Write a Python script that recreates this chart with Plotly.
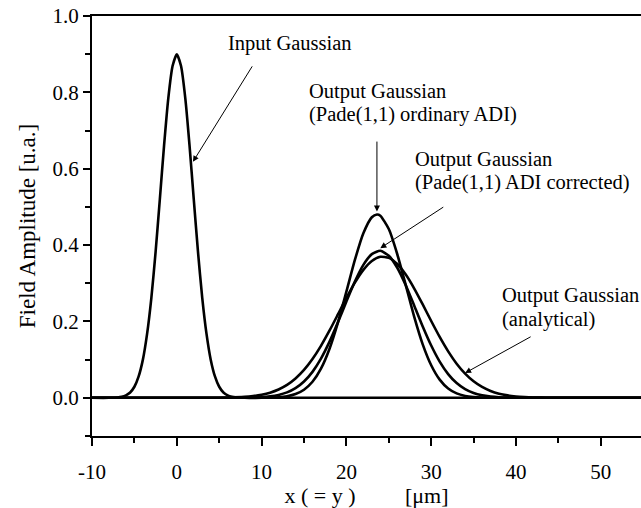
import plotly.graph_objects as go

# ---- data ----
x_input = [-10, -8, -7, -6.5, -6, -5.5, -5, -4.5, -4, -3.5, -3, -2.5, -2, -1.5, -1, -0.5, 0,
           0.5, 1, 1.5, 2, 2.5, 3, 3.5, 4, 4.5, 5, 5.5, 6, 6.5, 7, 8, 10, 55]
y_input = [0, 0, 0.001, 0.0027, 0.0065, 0.014, 0.029, 0.056, 0.100, 0.168, 0.262, 0.382, 0.520,
           0.661, 0.785, 0.869, 0.900, 0.869, 0.785, 0.661, 0.520, 0.382, 0.262, 0.168, 0.100,
           0.056, 0.029, 0.014, 0.0065, 0.0027, 0.001, 0, 0, 0]

x_ordinary = [-10, 8, 10, 11, 12, 13, 14, 15, 16, 17, 18, 19, 20, 21, 22, 23, 23.6, 24, 25, 26,
              27, 28, 29, 30, 31, 32, 33, 34, 35, 36, 37, 38, 40, 55]
y_ordinary = [0, 0, 0.0002, 0.0006, 0.0016, 0.0042, 0.0098, 0.0212, 0.042, 0.0764, 0.128, 0.197,
              0.278, 0.361, 0.431, 0.473, 0.480, 0.477, 0.442, 0.376, 0.295, 0.212, 0.140, 0.0853,
              0.0476, 0.0244, 0.0115, 0.0050, 0.0020, 0.0007, 0.0002, 0, 0, 0]

x_corrected = [-10, 6, 8, 10, 11, 12, 13, 14, 15, 16, 17, 18, 19, 20, 21, 22, 23, 24, 25, 26, 27,
               28, 29, 30, 31, 32, 33, 34, 35, 36, 37, 38, 39, 40, 42, 55]
y_corrected = [0, 0, 0.0003, 0.0018, 0.0038, 0.0075, 0.0142, 0.0253, 0.0427, 0.068, 0.1026,
               0.1464, 0.1976, 0.2523, 0.3048, 0.3483, 0.3764, 0.385, 0.3723, 0.3406, 0.2948,
               0.2414, 0.1869, 0.1370, 0.0949, 0.0622, 0.0386, 0.0226, 0.0126, 0.0066, 0.0033,
               0.0015, 0.0007, 0.0003, 0, 0]

x_analytical = [-10, 4, 6, 8, 9, 10, 11, 12, 13, 14, 15, 16, 17, 18, 19, 20, 21, 22, 23, 24, 25,
                26, 27, 28, 29, 30, 31, 32, 33, 34, 35, 36, 37, 38, 39, 40, 41, 42, 43, 44, 46, 55]
y_analytical = [0, 0, 0.0007, 0.0025, 0.0046, 0.0080, 0.0134, 0.0217, 0.0337, 0.0506, 0.0730,
                0.1016, 0.1361, 0.1757, 0.2184, 0.2616, 0.3016, 0.3350, 0.3584, 0.3694, 0.3666,
                0.3505, 0.3227, 0.2862, 0.2445, 0.2011, 0.1594, 0.1217, 0.0894, 0.0633, 0.0432,
                0.0284, 0.0180, 0.0109, 0.0064, 0.0036, 0.0020, 0.0010, 0.0005, 0.0002, 0, 0]

x_ticks = [-10, 0, 10, 20, 30, 40, 50]
x_ticklabels = ["-10", "0", "10", "20", "30", "40", "50"]
y_ticks = [0.0, 0.2, 0.4, 0.6, 0.8, 1.0]
y_ticklabels = ["0.0", "0.2", "0.4", "0.6", "0.8", "1.0"]

# text lines: (text, x, y, anchor)
text_lines = [
    ("Input Gaussian", 13.4, 0.929, "center"),
    ("Output Gaussian", 15.4, 0.801, "left"),
    ("(Pade(1,1) ordinary ADI)", 15.4, 0.741, "left"),
    ("Output Gaussian", 27.9, 0.623, "left"),
    ("(Pade(1,1) ADI corrected)", 27.9, 0.563, "left"),
    ("Output Gaussian", 38.1, 0.268, "left"),
    ("(analytical)", 38.1, 0.205, "left"),
]
# arrows: tail (x, y) -> head (x, y)
arrows = [
    (9.0, 0.872, 1.9, 0.618),
    (23.6, 0.675, 23.6, 0.488),
    (31.6, 0.502, 24.0, 0.392),
    (41.9, 0.162, 34.0, 0.065),
]

FONT = "Liberation Serif"

fig = go.Figure()
for xs, ys in [(x_input, y_input), (x_ordinary, y_ordinary),
               (x_corrected, y_corrected), (x_analytical, y_analytical)]:
    fig.add_trace(go.Scatter(x=xs, y=ys, mode="lines",
                             line=dict(color="black", width=2.6, shape="spline", smoothing=0.6),
                             showlegend=False, hoverinfo="skip"))

for text, tx, ty, anchor in text_lines:
    fig.add_annotation(x=tx, y=ty, xref="x", yref="y", text=text, showarrow=False,
                       xanchor=anchor, yanchor="middle",
                       font=dict(family=FONT, size=20.5, color="black"))
for ax_, ay_, hx, hy in arrows:
    fig.add_annotation(x=hx, y=hy, ax=ax_, ay=ay_, xref="x", yref="y", axref="x", ayref="y",
                       text="", showarrow=True, arrowhead=2, arrowsize=1.2, arrowwidth=1,
                       arrowcolor="black")

fig.update_layout(
    width=641, height=508,
    margin=dict(l=92, r=0, t=16, b=72),
    paper_bgcolor="white", plot_bgcolor="white",
    font=dict(family=FONT, size=21, color="black"),
    showlegend=False,
)
fig.update_xaxes(
    range=[-10, 54.74], tickmode="array", tickvals=x_ticks, ticktext=x_ticklabels,
    ticks="outside", ticklen=8, tickwidth=1.5, tickcolor="black",
    showline=True, linecolor="black", linewidth=2, mirror=True,
    showgrid=False, zeroline=False, ticklabelstandoff=8,
    minor=dict(dtick=5, ticks="outside", ticklen=5, tickwidth=1.5, tickcolor="black", showgrid=False),
    title=dict(text="x ( = y )\u00a0\u00a0\u00a0\u00a0\u00a0\u00a0\u00a0\u00a0\u00a0[μm]",
               font=dict(family=FONT, size=22), standoff=6),
    tickfont=dict(family=FONT, size=21),
)
fig.update_yaxes(
    range=[-0.1, 1.0], tickmode="array", tickvals=y_ticks, ticktext=y_ticklabels,
    ticks="outside", ticklen=7, tickwidth=1.5, tickcolor="black",
    showline=True, linecolor="black", linewidth=2, mirror=False,
    showgrid=False, zeroline=False,
    minor=dict(tickvals=[0.1, 0.3, 0.5, 0.7, 0.9, -0.1], ticks="outside", ticklen=5,
               tickwidth=1.5, tickcolor="black", showgrid=False),
    title=dict(text="Field Amplitude [u.a.]", font=dict(family=FONT, size=23), standoff=10),
    tickfont=dict(family=FONT, size=21),
)

fig.write_html("out.html")
